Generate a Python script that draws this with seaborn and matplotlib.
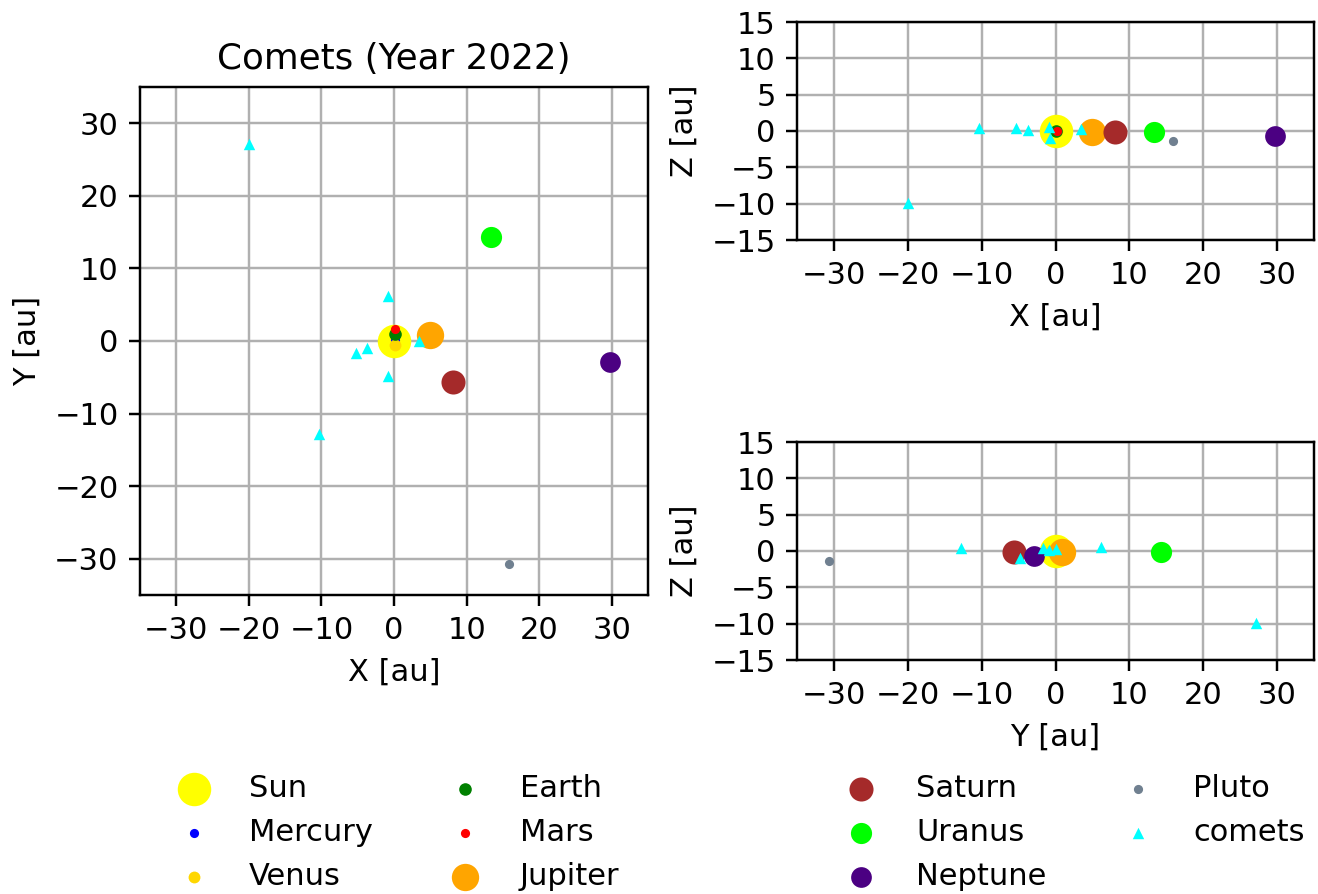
import matplotlib
matplotlib.use("Agg")
import matplotlib.pyplot as plt
import seaborn as sns
import pandas as pd

sns.set_style("white")
plt.rcParams['font.family'] = ['DejaVu Sans']
plt.rcParams['font.size'] = 10
plt.rcParams['text.color'] = 'black'
plt.rcParams['axes.labelcolor'] = 'black'
plt.rcParams['xtick.color'] = 'black'
plt.rcParams['ytick.color'] = 'black'

# ---- data ----
bodies = ["Sun", "Mercury", "Venus", "Earth", "Mars", "Jupiter",
          "Saturn", "Uranus", "Neptune", "Pluto"]
body_x = [0.0, 0.2, 0.2, 0.07, 0.2, 4.9, 8.07, 13.3, 29.7, 15.9]
body_y = [0.0, 0.1, -0.6, 1.0, 1.6, 0.85, -5.65, 14.3, -2.9, -30.7]
body_z = [0.0, 0.0, 0.0, 0.0, 0.0, -0.1, -0.15, -0.15, -0.65, -1.4]
body_colors = ["yellow", "blue", "gold", "green", "red", "orange",
               "brown", "lime", "indigo", "slategray"]
body_sizes = [120, 9, 15, 17, 9, 80, 62, 48, 46, 9]

comet_x = [-20.0, -0.85, -5.3, -3.75, 3.4, -0.76, -10.3]
comet_y = [27.2, 6.2, -1.7, -0.9, 0.0, -4.8, -12.8]
comet_z = [-9.9, 0.5, 0.35, 0.2, 0.3, -0.9, 0.45]
comet_label = "comets"
comet_color = "cyan"
comet_size = 14

title = "Comets (Year 2022)"

df = pd.DataFrame({"name": bodies, "x": body_x, "y": body_y, "z": body_z})
dfc = pd.DataFrame({"x": comet_x, "y": comet_y, "z": comet_z})

W, H = 1318, 894
dpi = 220
fig = plt.figure(figsize=(W / dpi, H / dpi), dpi=dpi)

ax1 = fig.add_axes([140 / W, (H - 595) / H, 508 / W, 508 / H])
ax2 = fig.add_axes([797 / W, (H - 240) / H, 517 / W, 218 / H])
ax3 = fig.add_axes([797 / W, (H - 660) / H, 517 / W, 218 / H])

panels = [(ax1, "x", "y", "X [au]", "Y [au]", (-35, 35), range(-30, 31, 10)),
          (ax2, "x", "z", "X [au]", "Z [au]", (-15, 15), range(-15, 16, 5)),
          (ax3, "y", "z", "Y [au]", "Z [au]", (-15, 15), range(-15, 16, 5))]

for ax, cx, cy, xl, yl, ylim, yticks in panels:
    ax.set_axisbelow(True)
    for i, name in enumerate(bodies):
        sns.scatterplot(data=df.iloc[[i]], x=cx, y=cy, ax=ax, color=body_colors[i],
                        s=body_sizes[i], linewidth=0, marker="o", label=name, legend=False)
    sns.scatterplot(data=dfc, x=cx, y=cy, ax=ax, color=comet_color, s=comet_size,
                    linewidth=0, marker="^", label=comet_label, legend=False)
    ax.set_xlim(-35, 35)
    ax.set_ylim(*ylim)
    ax.set_xticks(range(-30, 31, 10))
    ax.set_yticks(list(yticks))
    ax.grid(True, color="#b0b0b0", linewidth=0.8)
    ax.set_xlabel(xl)
    ax.set_ylabel(yl)
    ax.tick_params(axis="both", which="both", direction="out", length=3.5, width=0.8,
                   bottom=True, left=True, labelsize=10, colors="black")
    for sp in ax.spines.values():
        sp.set_color("black")
        sp.set_linewidth(0.8)

ax1.set_title(title, fontsize=11.7)

handles, labels = ax1.get_legend_handles_labels()
fig.legend(handles[:6], labels[:6], ncol=2, loc="center", frameon=False,
           bbox_to_anchor=(0.297, 0.069), fontsize=10)
fig.legend(handles[6:], labels[6:], ncol=2, loc="center", frameon=False,
           bbox_to_anchor=(0.810, 0.069), fontsize=10)

fig.savefig("out.png", dpi=dpi)
